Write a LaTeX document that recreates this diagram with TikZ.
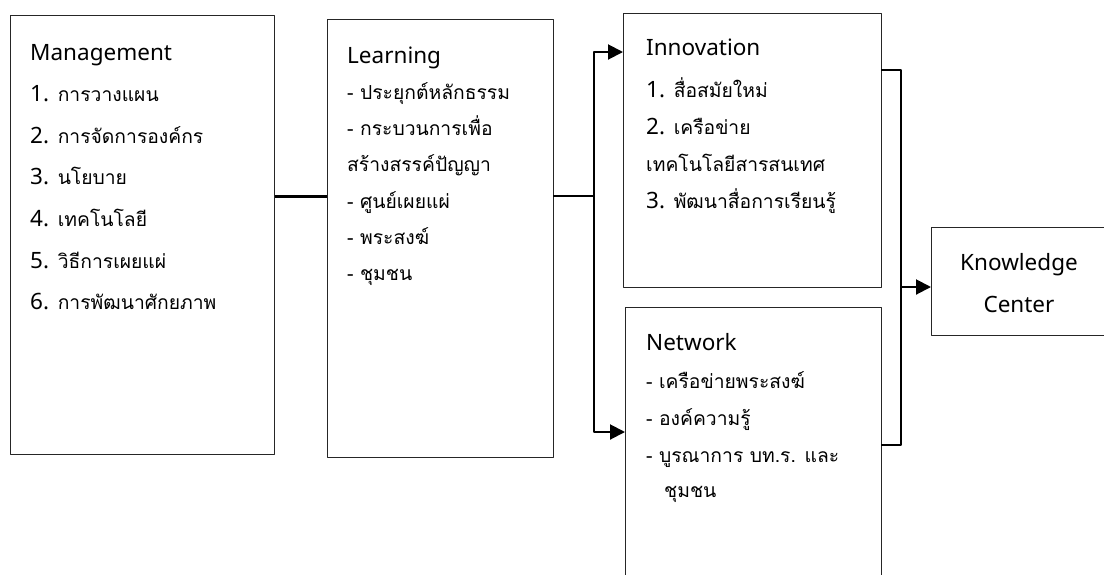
\documentclass[tikz,border=0pt]{standalone}
\usepackage{fontspec}
\setmainfont{Loma}[Script=Thai]
\newfontfamily\latfont{Noto Sans}
\newcommand\lt[1]{{\latfont\fontsize{22.5}{26}\selectfont #1}}
\usetikzlibrary{arrows.meta}
\tikzset{
  box/.style={draw=black!85, line width=1pt, inner sep=0pt, anchor=north west},
  txt/.style={anchor=base west, inner sep=0pt, font=\fontsize{19.3}{22}\selectfont},
  conn/.style={line width=2pt, line cap=rect},
  arr/.style={line width=2pt, -{Triangle[length=15pt,width=15pt]}},
}
\begin{document}
\begin{tikzpicture}[x=1pt, y=-1pt, line join=round]
\useasboundingbox (0,0) rectangle (1104,574);
\clip (0,0) rectangle (1104,574);
% กล่อง
\node[box, minimum width=264pt, minimum height=439pt] (mgmt) at (10,15) {};
\node[box, minimum width=226pt, minimum height=438pt] (learn) at (327,19) {};
\node[box, minimum width=258pt, minimum height=274pt] (innov) at (623,13) {};
\node[box, minimum width=256pt, minimum height=300pt] (net) at (625,307) {};
\node[box, minimum width=180pt, minimum height=108pt] (know) at (931,227) {};
% ข้อความ
\foreach \t [count=\i from 0] in {\lt{Management}, \lt{1.} การวางแผน, \lt{2.} การจัดการองค์กร, \lt{3.} นโยบาย, \lt{4.} เทคโนโลยี, \lt{5.} วิธีการเผยแผ่, \lt{6.} การพัฒนาศักยภาพ}
  \node[txt] (m\i) at (30,60+41.6*\i) {\t};
\foreach \t [count=\i from 0] in {\lt{Learning}, - ประยุกต์หลักธรรม, - กระบวนการเพื่อ, สร้างสรรค์ปัญญา, - ศูนย์เผยแผ่, - พระสงฆ์, - ชุมชน}
  \node[txt] (l\i) at (347,63+36.3*\i) {\t};
\node[txt] (i0) at (646,55) {\lt{Innovation}};
\foreach \t [count=\i from 1] in {\lt{1.} สื่อสมัยใหม่, \lt{2.} เครือข่าย, เทคโนโลยีสารสนเทศ, \lt{3.} พัฒนาสื่อการเรียนรู้}
  \node[txt] (i\i) at (646,60+37.2*\i) {\t};
\node[txt] (n0) at (646,350) {\lt{Network}};
\foreach \t [count=\i from 1] in {- เครือข่ายพระสงฆ์, - องค์ความรู้, - บูรณาการ บท.ร. และ}
  \node[txt] (n\i) at (646,351+37*\i) {\t};
\node[txt] (n4) at (664,497) {ชุมชน};
\node[txt, anchor=base] (k1) at (1019,270) {\lt{Knowledge}};
\node[txt, anchor=base] (k2) at (1019,312) {\lt{Center}};
% เส้นเชื่อม
\coordinate (split) at (594,196);
\coordinate (join) at (901,287);
\draw[line width=3pt] (mgmt.east |- split) -- (learn.west |- split);
\draw[conn] (learn.east |- split) -- (split);
\draw[arr] (split) |- (innov.west |- 0,52);
\draw[arr] (split) |- (net.west |- 0,432);
\draw[conn] (innov.east |- 0,70) -| (join) |- (net.east |- 0,445);
\draw[arr] (join) -- (know.west |- join);
\end{tikzpicture}
\end{document}
